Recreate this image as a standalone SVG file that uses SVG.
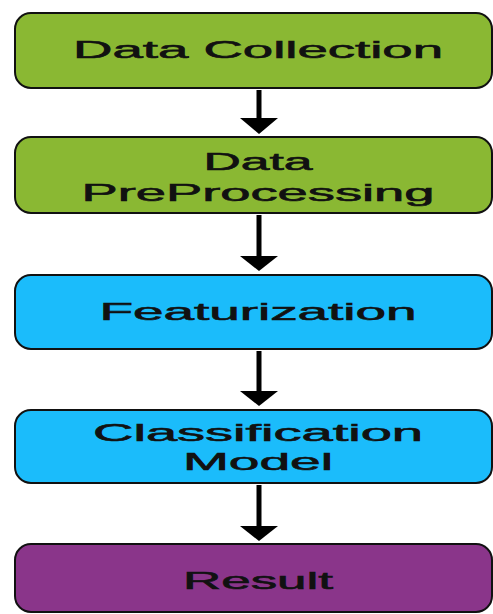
<svg xmlns="http://www.w3.org/2000/svg" width="493" height="614" viewBox="0 0 493 614">
<style>
.box{stroke:#111;stroke-width:2}
.g{fill:#8ab833}
.b{fill:#1bbcfb}
.p{fill:#8a358a}
text{font-family:"Liberation Sans",Arial,sans-serif;font-size:24px;fill:#111;stroke:#111;stroke-width:0.6;text-anchor:middle}
.line{stroke:#000;stroke-width:5}
.head{fill:#000}
</style>
<rect width="493" height="614" fill="#fff"/>
<g id="connectors">
<line class="line" x1="259" y1="90" x2="259" y2="120"/><polygon class="head" points="240,118 278,118 259,134"/>
<line class="line" x1="259" y1="215" x2="259" y2="258"/><polygon class="head" points="240,256 278,256 259,271"/>
<line class="line" x1="259" y1="351" x2="259" y2="393"/><polygon class="head" points="240,391 278,391 259,406"/>
<line class="line" x1="259" y1="485" x2="259" y2="528"/><polygon class="head" points="240,526 278,526 259,541"/>
</g>
<g id="n1"><rect class="box g" x="15" y="13" width="477" height="75" rx="16"/><text x="258" y="58" textLength="370" lengthAdjust="spacingAndGlyphs">Data Collection</text></g>
<g id="n2"><rect class="box g" x="15" y="137" width="477" height="76" rx="16"/><text x="258" y="170" textLength="109" lengthAdjust="spacingAndGlyphs">Data</text><text x="258" y="201" textLength="353" lengthAdjust="spacingAndGlyphs">PreProcessing</text></g>
<g id="n3"><rect class="box b" x="15" y="275" width="477" height="74" rx="16"/><text x="258" y="320" textLength="317" lengthAdjust="spacingAndGlyphs">Featurization</text></g>
<g id="n4"><rect class="box b" x="15" y="410" width="477" height="73" rx="16"/><text x="258" y="441" textLength="330" lengthAdjust="spacingAndGlyphs">Classification</text><text x="258" y="470" textLength="150" lengthAdjust="spacingAndGlyphs">Model</text></g>
<g id="n5"><rect class="box p" x="15" y="544" width="477" height="68" rx="16"/><text x="258" y="589" textLength="150" lengthAdjust="spacingAndGlyphs">Result</text></g>
</svg>
